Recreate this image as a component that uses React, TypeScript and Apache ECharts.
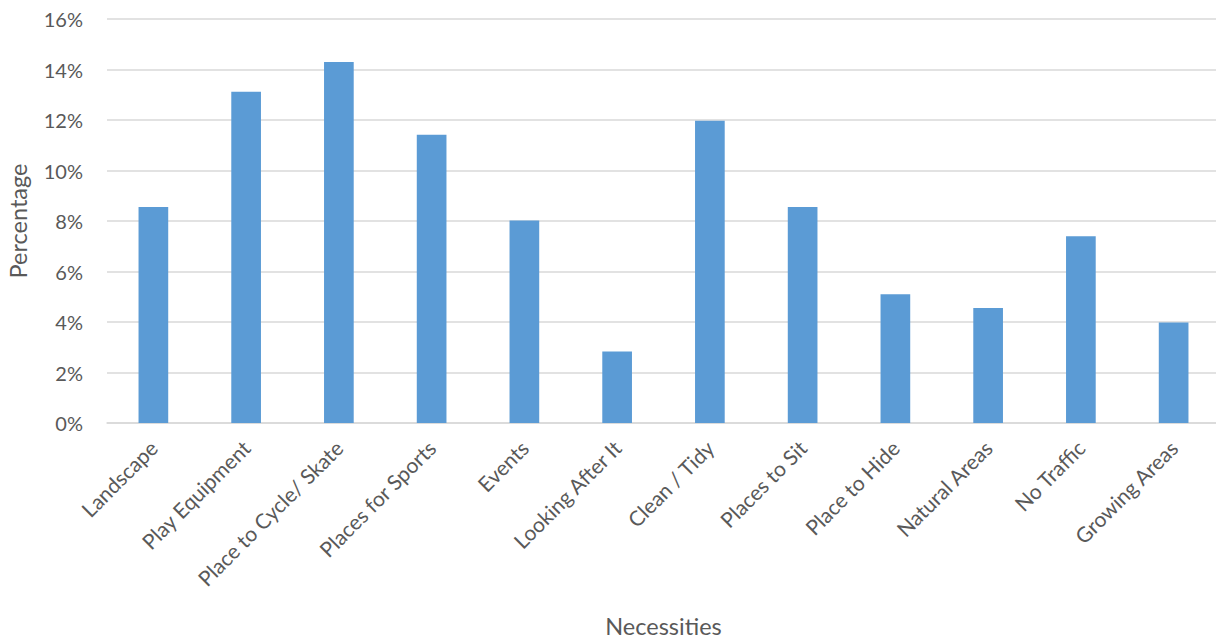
import React, { useEffect, useRef } from "react";
import * as echarts from "echarts";

const categories = [
  "Landscape",
  "Play Equipment",
  "Place to Cycle/ Skate",
  "Places for Sports",
  "Events",
  "Looking After It",
  "Clean / Tidy",
  "Places to Sit",
  "Place to Hide",
  "Natural Areas",
  "No Traffic",
  "Growing Areas",
];
const values = [8.55, 13.12, 14.3, 11.42, 8.02, 2.83, 11.97, 8.55, 5.1, 4.55, 7.4, 3.98];
const yTicks = [0, 2, 4, 6, 8, 10, 12, 14, 16];

const FONT = "Lato, 'Open Sans', sans-serif";

export default function App() {
  const ref = useRef<HTMLDivElement>(null);
  useEffect(() => {
    if (!ref.current) return;
    const chart = echarts.init(ref.current, undefined, { renderer: "svg" });
    chart.setOption({
      animation: false,
      grid: {
        left: 107,
        right: -4,
        top: 19,
        bottom: 221,
        containLabel: false,
        outerBoundsMode: "none",
      },
      xAxis: {
        type: "category",
        data: categories,
        name: "Necessities",
        nameLocation: "middle",
        nameGap: 191,
        nameTextStyle: { fontFamily: FONT, fontSize: 23.5, color: "#595959" },
        axisLine: { show: true, lineStyle: { color: "#D9D9D9", width: 1.5 } },
        axisTick: { show: false },
        axisLabel: {
          interval: 0,
          rotate: 45,
          margin: 21,
          fontFamily: FONT,
          fontSize: 21,
          color: "#595959",
        },
      },
      yAxis: {
        type: "value",
        min: yTicks[0],
        max: yTicks[yTicks.length - 1],
        interval: 2,
        name: "Percentage",
        nameLocation: "middle",
        nameGap: 77,
        nameTextStyle: { fontFamily: FONT, fontSize: 23.5, color: "#595959" },
        axisLine: { show: false },
        axisTick: { show: false },
        axisLabel: {
          margin: 24,
          fontFamily: FONT,
          fontSize: 20,
          color: "#595959",
          formatter: (v: number) => `${v}%`,
        },
        splitLine: { lineStyle: { color: "#D9D9D9", width: 1.5 } },
      },
      series: [
        {
          type: "bar",
          data: values,
          barWidth: "32%",
          itemStyle: { color: "#5B9BD5" },
        },
      ],
    });
    return () => chart.dispose();
  }, []);
  return <div ref={ref} style={{ width: 1216, height: 644, position: "absolute", left: 0, top: 0 }} />;
}
